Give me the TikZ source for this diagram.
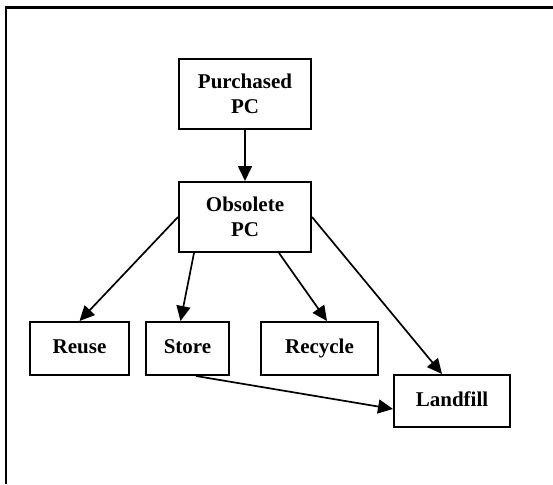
\documentclass[tikz,border=0pt]{standalone}
\usepackage{fontspec}
\setmainfont{Liberation Serif}
\usetikzlibrary{arrows.meta}
\begin{document}
\begin{tikzpicture}[x=1pt,y=-1pt,
  box/.style={draw,line width=2pt,inner sep=0pt,align=center,
    font=\fontsize{21}{25}\selectfont\bfseries},
  onebox/.style={box,text height=14pt,text depth=4pt},
  conn/.style={line width=1.7pt,-{Triangle[length=15pt,width=14pt]}},
  frame/.style={line width=2.2pt}]
\useasboundingbox (0,0) rectangle (553,484);
\draw[frame] (6,484) -- (6,7.5) -- (553,7.5);
\node[box,minimum width=132pt,minimum height=70pt] (pur) at (245,94) {Purchased\\PC};
\node[box,minimum width=132pt,minimum height=70pt] (obs) at (245,217) {Obsolete\\PC};
\node[onebox,minimum width=99pt,minimum height=53pt] (reuse) at (79.5,348.5) {Reuse};
\node[onebox,minimum width=83pt,minimum height=53pt] (store) at (187.5,348.5) {Store};
\node[onebox,minimum width=117pt,minimum height=53pt] (recycle) at (319.5,348.5) {Recycle};
\node[onebox,minimum width=116pt,minimum height=52pt] (landfill) at (452,401) {Landfill};
\draw[conn] (pur) -- (obs);
\draw[conn] (obs.west) -- (reuse.north);
\draw[conn] ([xshift=16pt]obs.south west) -- ([xshift=-7pt]store.north);
\draw[conn] ([xshift=34pt]obs.south) -- ([xshift=7.5pt]recycle.north);
\draw[conn] (obs.east) -- ([xshift=-10pt]landfill.north);
\draw[conn] ([xshift=8.5pt]store.south) -- ([yshift=-8pt]landfill.west);
\end{tikzpicture}
\end{document}
